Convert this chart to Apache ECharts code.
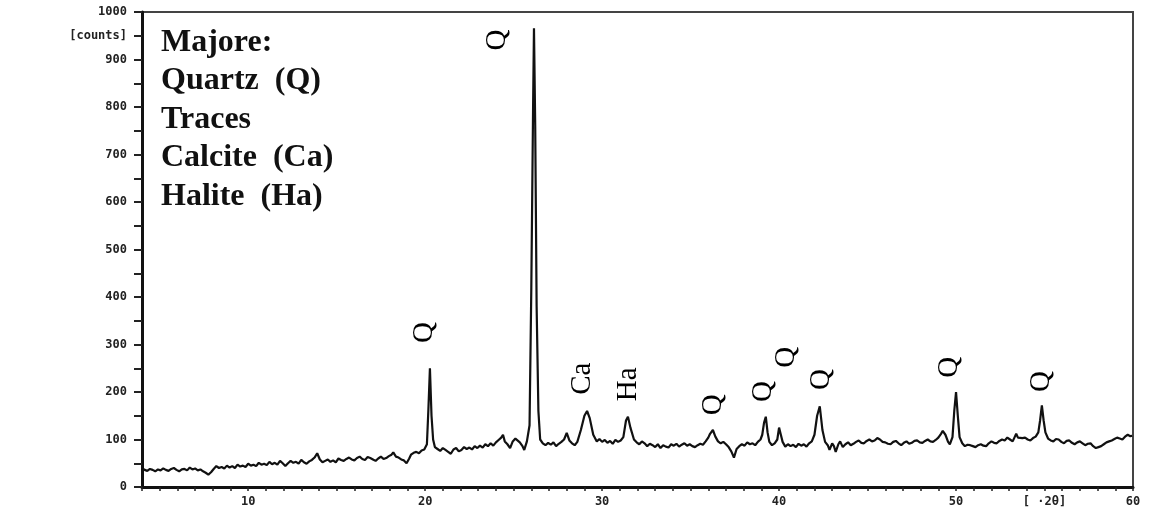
<!DOCTYPE html>
<html>
<head>
<meta charset="utf-8">
<script src="https://cdn.jsdelivr.net/npm/echarts@6/dist/echarts.min.js"></script>
<style>
html,body{margin:0;padding:0;background:#fff;}
#chart{width:1152px;height:512px;}
</style>
</head>
<body>
<div id="chart"></div>
<script>
// diffractogram: [2-theta (deg), counts]
var scan = [
  [4.0,40],[4.15,36],[4.3,34],[4.45,38],[4.6,36],[4.75,33],[4.9,37],[5.05,35],[5.2,39],[5.35,36],
  [5.5,34],[5.65,38],[5.8,40],[5.95,36],[6.1,33],[6.25,37],[6.4,38],[6.55,35],[6.7,41],[6.85,37],
  [7.0,39],[7.15,35],[7.3,37],[7.45,33],[7.6,30],[7.75,26],[7.9,31],[8.05,38],[8.2,44],[8.35,40],
  [8.5,42],[8.65,39],[8.8,45],[8.95,41],[9.1,44],[9.25,40],[9.4,47],[9.55,43],[9.7,45],[9.85,42],
  [10.0,49],[10.15,45],[10.3,47],[10.45,44],[10.6,51],[10.75,47],[10.9,49],[11.05,46],[11.2,53],[11.35,48],
  [11.5,51],[11.65,47],[11.8,55],[11.95,50],[12.1,44],[12.25,50],[12.4,55],[12.55,51],[12.7,53],[12.85,49],
  [13.0,57],[13.15,52],[13.3,49],[13.45,54],[13.6,57],[13.75,62],[13.9,71],[14.05,58],[14.2,52],[14.35,55],
  [14.5,58],[14.65,53],[14.8,56],[14.95,52],[15.1,60],[15.25,57],[15.4,55],[15.55,59],[15.7,62],[15.85,58],
  [16.0,56],[16.15,61],[16.3,64],[16.45,59],[16.6,57],[16.75,63],[16.9,61],[17.05,58],[17.2,55],[17.35,60],
  [17.5,64],[17.65,59],[17.8,61],[17.95,65],[18.1,68],[18.2,73],[18.35,64],[18.5,62],[18.65,58],[18.8,56],
  [18.95,50],[19.1,60],[19.2,68],[19.35,72],[19.5,74],[19.65,71],[19.8,77],[19.95,79],[20.1,90],[20.18,160],
  [20.27,250],[20.36,150],[20.45,100],[20.55,84],[20.7,80],[20.85,76],[21.0,82],[21.15,78],[21.3,74],[21.45,70],
  [21.6,79],[21.75,82],[21.9,75],[22.05,78],[22.2,84],[22.35,80],[22.5,83],[22.65,79],[22.8,86],[22.95,82],
  [23.1,87],[23.25,83],[23.4,90],[23.55,86],[23.7,92],[23.85,87],[24.0,94],[24.15,99],[24.3,104],[24.4,110],
  [24.5,96],[24.65,90],[24.8,82],[24.95,96],[25.1,102],[25.2,106],[25.35,94],[25.5,86],[25.6,78],[25.75,96],
  [25.9,130],[26.0,420],[26.1,800],[26.15,966],[26.22,760],[26.3,380],[26.4,160],[26.5,100],[26.65,92],[26.8,88],
  [26.95,93],[27.1,89],[27.25,94],[27.4,86],[27.55,91],[27.7,95],[27.85,100],[28.0,114],[28.15,98],[28.3,92],
  [28.45,88],[28.6,95],[28.8,120],[29.0,150],[29.15,160],[29.3,145],[29.5,110],[29.7,96],[29.85,101],[30.0,95],
  [30.15,99],[30.3,93],[30.45,97],[30.6,91],[30.75,99],[30.9,95],[31.05,98],[31.2,105],[31.35,140],[31.46,148],
  [31.6,125],[31.8,100],[31.95,94],[32.1,90],[32.25,96],[32.4,92],[32.55,86],[32.7,91],[32.85,88],[33.0,84],
  [33.15,90],[33.3,82],[33.45,88],[33.6,85],[33.75,83],[33.9,90],[34.05,87],[34.2,91],[34.35,85],[34.5,89],
  [34.65,92],[34.8,87],[34.95,90],[35.1,86],[35.25,84],[35.4,88],[35.55,91],[35.7,89],[35.85,96],[36.0,104],
  [36.1,112],[36.26,120],[36.4,106],[36.55,96],[36.7,92],[36.85,95],[37.0,90],[37.15,84],[37.3,75],[37.45,62],
  [37.6,80],[37.75,86],[37.9,90],[38.05,87],[38.2,94],[38.35,90],[38.5,92],[38.65,88],[38.8,95],[38.95,100],
  [39.05,110],[39.15,135],[39.25,148],[39.35,115],[39.45,95],[39.6,88],[39.75,92],[39.9,100],[40.0,125],[40.1,110],
  [40.2,95],[40.35,85],[40.5,90],[40.65,86],[40.8,89],[40.95,84],[41.1,91],[41.25,87],[41.4,90],[41.55,85],
  [41.7,92],[41.85,96],[42.0,110],[42.15,150],[42.3,170],[42.45,120],[42.6,95],[42.75,88],[42.85,78],[43.0,92],
  [43.1,86],[43.2,74],[43.35,90],[43.45,96],[43.6,84],[43.75,90],[43.9,94],[44.05,88],[44.2,91],[44.35,95],
  [44.5,98],[44.65,93],[44.8,92],[44.95,97],[45.1,100],[45.25,96],[45.4,98],[45.55,103],[45.7,100],[45.85,95],
  [46.0,94],[46.15,91],[46.3,90],[46.45,95],[46.6,97],[46.75,92],[46.9,88],[47.05,93],[47.2,96],[47.35,91],
  [47.5,93],[47.65,97],[47.8,98],[47.95,94],[48.1,93],[48.25,97],[48.4,100],[48.55,96],[48.7,95],[48.85,99],
  [49.0,104],[49.15,112],[49.25,118],[49.4,110],[49.55,95],[49.65,90],[49.8,105],[49.9,160],[50.0,200],[50.1,150],
  [50.2,105],[50.35,92],[50.5,86],[50.65,89],[50.8,88],[50.95,86],[51.1,84],[51.25,88],[51.4,90],[51.55,87],
  [51.7,86],[51.85,92],[52.0,96],[52.15,93],[52.3,92],[52.45,97],[52.6,100],[52.75,98],[52.9,104],[53.05,100],
  [53.2,96],[53.3,104],[53.4,112],[53.5,104],[53.6,100],[53.75,103],[53.9,104],[54.05,100],[54.2,98],[54.35,103],
  [54.5,106],[54.65,115],[54.75,140],[54.85,172],[54.95,140],[55.05,115],[55.2,102],[55.35,98],[55.5,96],[55.65,101],
  [55.8,100],[55.95,95],[56.1,92],[56.25,97],[56.4,98],[56.55,93],[56.7,90],[56.85,94],[57.0,96],[57.15,92],
  [57.3,88],[57.45,91],[57.6,92],[57.75,86],[57.9,82],[58.05,84],[58.2,86],[58.35,90],[58.5,94],[58.65,96],
  [58.8,98],[58.95,101],[59.1,104],[59.25,102],[59.4,100],[59.55,106],[59.7,110],[59.85,107],[59.95,108]
];
// peak identification labels
var peakLabelText = ['Q','Q','Ca','Ha','Q','Q','Q','Q','Q','Q'];
var peakLabelX = [19.93,24.1,28.86,31.46,36.3,39.1,40.4,42.4,49.65,54.85];
var peakLabelY = [325,941,228,216,173,201,273,226,252,222];
// axis tick labels
var yTickLabels = [0,100,200,300,400,500,600,700,800,900,1000];
var yUnitLabel = '[counts]';
var yUnitAt = 950;
var xTickLabels = [10,20,30,40,50,60];
var xUnitLabel = '[ \u00B72\u03B8]';
var xUnitAt = 55;
var mineralNotes = ['Majore:','Quartz  (Q)','Traces','Calcite  (Ca)','Halite  (Ha)'];

var labelData = peakLabelX.map(function(x,i){return [x,peakLabelY[i],peakLabelText[i]];});

var chart = echarts.init(document.getElementById('chart'), null, {renderer:'canvas'});
var tickFont = {fontFamily:'DejaVu Sans Mono', fontWeight:'bold', fontSize:12, color:'#222'};
chart.setOption({
  animation:false,
  backgroundColor:'#fff',
  title:{
    text: mineralNotes.join('\n'),
    left:156, top:18,
    textStyle:{fontFamily:'Liberation Serif', fontWeight:'bold', fontSize:32, lineHeight:38.5, color:'#111'}
  },
  grid:{left:142, right:19, top:12, bottom:25, show:true, borderColor:'#444', borderWidth:2, backgroundColor:'transparent'},
  xAxis:{
    type:'value', min:4, max:60, interval:1,
    axisLine:{show:true, onZero:false, lineStyle:{color:'#111', width:3}},
    axisTick:{show:true, inside:false, length:4, lineStyle:{color:'#222', width:1.5}},
    splitLine:{show:false},
    axisLabel:Object.assign({
      interval:0, margin:9, showMinLabel:true, showMaxLabel:true,
      formatter:function(v){
        if (xTickLabels.indexOf(v) >= 0) return String(v);
        if (v === xUnitAt) return xUnitLabel;
        return '';
      }
    }, tickFont)
  },
  yAxis:{
    type:'value', min:0, max:1000, interval:50,
    axisLine:{show:true, lineStyle:{color:'#111', width:3}},
    axisTick:{show:true, inside:false, length:8, lineStyle:{color:'#222', width:2}},
    splitLine:{show:false},
    axisLabel:Object.assign({
      margin:15, showMinLabel:true, showMaxLabel:true,
      formatter:function(v){
        if (yTickLabels.indexOf(v) >= 0) return String(v);
        if (v === yUnitAt) return yUnitLabel;
        return '';
      }
    }, tickFont)
  },
  series:[
    {
      type:'line', data:scan, showSymbol:false, symbol:'none',
      lineStyle:{color:'#111', width:2.2}, z:3
    },
    {
      type:'scatter', data:labelData, symbolSize:0, silent:true, z:4,
      itemStyle:{opacity:1, color:'#000'},
      label:{
        show:true, position:'inside', rotate:90, opacity:1,
        formatter:function(p){return p.data[2];},
        fontFamily:'Liberation Serif', fontSize:29, color:'#000',
        textBorderWidth:0
      }
    }
  ]
});
</script>
</body>
</html>
